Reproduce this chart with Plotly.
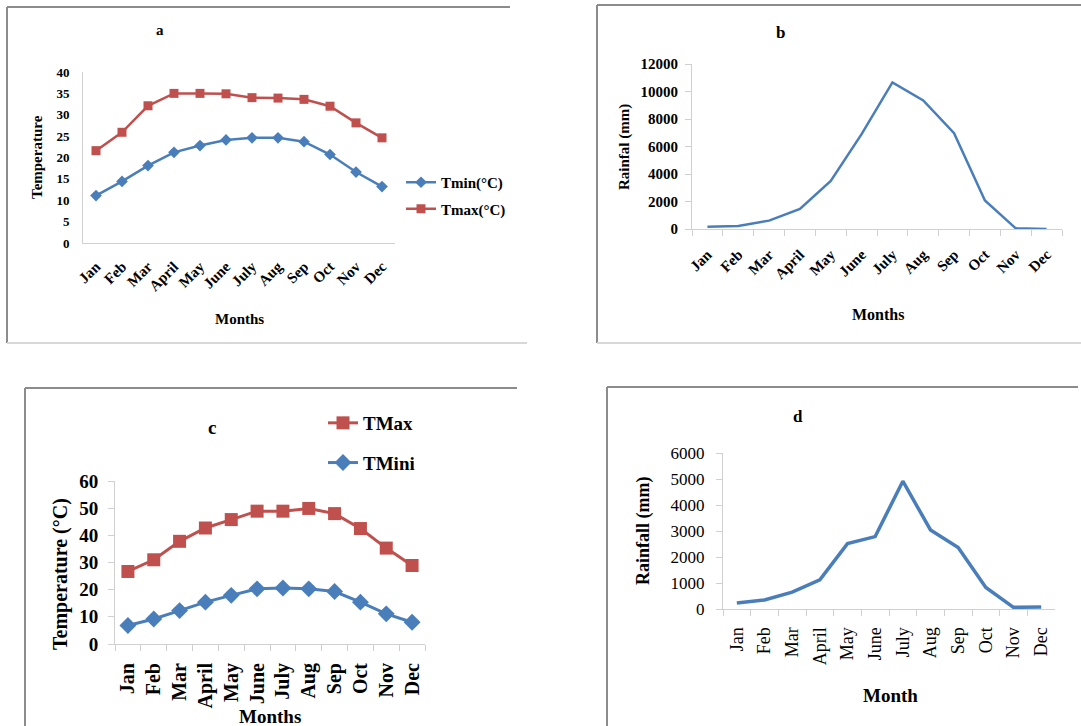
import plotly.graph_objects as go

months = ["Jan", "Feb", "Mar", "April", "May", "June", "July", "Aug", "Sep", "Oct", "Nov", "Dec"]
a_tmin = [11.1, 14.4, 18.1, 21.2, 22.8, 24.1, 24.6, 24.6, 23.7, 20.7, 16.6, 13.2]
a_tmax = [21.6, 25.9, 32.1, 35.0, 35.0, 34.9, 34.0, 33.9, 33.6, 32.0, 28.1, 24.6]
b_rain = [170, 220, 610, 1460, 3500, 6900, 10660, 9350, 6970, 2070, 50, 0]
c_tmax = [26.7, 31.0, 37.8, 42.7, 45.8, 48.9, 48.9, 49.9, 48.0, 42.5, 35.3, 28.9]
c_tmin = [6.8, 9.2, 12.3, 15.4, 17.9, 20.3, 20.6, 20.3, 19.3, 15.4, 11.1, 8.0]
d_rain = [230, 345, 650, 1124, 2516, 2784, 4917, 3040, 2363, 830, 64, 77]

W, H = 1081, 726
FONT = "Liberation Serif, Times New Roman, serif"
BLUE = "#4A7EBB"
RED = "#C0504D"
AX = "#D0D0D0"


def fx(x):
    return x / W


def fy(y):
    return 1 - y / H


fig = go.Figure()

# panel a
fig.add_trace(go.Scatter(x=months, y=a_tmin, name="Tmin(°C)", mode="lines+markers",
                         line=dict(color=BLUE, width=2.5), marker=dict(symbol="diamond", size=9, color=BLUE),
                         xaxis="x", yaxis="y", legend="legend", legendgroup="a1"))
fig.add_trace(go.Scatter(x=months, y=a_tmax, name="Tmax(°C)", mode="lines+markers",
                         line=dict(color=RED, width=2.5), marker=dict(symbol="square", size=9, color=RED),
                         xaxis="x", yaxis="y", legend="legend", legendgroup="a2"))
# panel b
fig.add_trace(go.Scatter(x=months, y=b_rain, mode="lines", showlegend=False,
                         line=dict(color=BLUE, width=2.5), xaxis="x2", yaxis="y2"))
# panel c
fig.add_trace(go.Scatter(x=months, y=c_tmax, name="TMax", mode="lines+markers",
                         line=dict(color=RED, width=3), marker=dict(symbol="square", size=13, color=RED),
                         xaxis="x3", yaxis="y3", legend="legend2", legendgroup="c1"))
fig.add_trace(go.Scatter(x=months, y=c_tmin, name="TMini", mode="lines+markers",
                         line=dict(color=BLUE, width=3), marker=dict(symbol="diamond", size=13, color=BLUE),
                         xaxis="x3", yaxis="y3", legend="legend2", legendgroup="c2"))
# panel d
fig.add_trace(go.Scatter(x=months, y=d_rain, mode="lines", showlegend=False,
                         line=dict(color=BLUE, width=3.5), xaxis="x4", yaxis="y4"))


def xax(dom, size, angle, bold, ticks, standoff):
    return dict(domain=[fx(dom[0]), fx(dom[1])], type="category", range=[-0.5, 11.5],
                showline=True, linecolor=AX, linewidth=1, showgrid=False, zeroline=False,
                ticks=ticks, ticklen=6, tickcolor=AX, tickson="boundaries",
                tickangle=angle, ticklabelstandoff=standoff,
                tickfont=dict(family=FONT, size=size, color="black", weight="bold" if bold else "normal"))


def yax(dom, rng, dtick, size, bold, ticks, standoff, anchor):
    return dict(domain=[fy(dom[1]), fy(dom[0])], range=rng, dtick=dtick, anchor=anchor,
                showline=True, linecolor=AX, linewidth=1, showgrid=False, zeroline=False,
                ticks=ticks, ticklen=6, tickcolor=AX, ticklabelstandoff=standoff,
                tickformat="d",
                tickfont=dict(family=FONT, size=size, color="black", weight="bold" if bold else "normal"))


layout = dict(
    width=W, height=H, margin=dict(l=0, r=0, t=0, b=0, autoexpand=False),
    paper_bgcolor="white", plot_bgcolor="white",
    xaxis=dict(xax((83, 395), 15, -45, True, "", 8), anchor="y"),
    yaxis=yax((72, 243), [0, 40], 5, 13, True, "", 10, "x"),
    xaxis2=dict(xax((692, 1062), 15, -45, True, "outside", 10), anchor="y2"),
    yaxis2=yax((64, 229), [0, 12000], 2000, 15, True, "outside", 4, "x2"),
    xaxis3=dict(xax((115, 425), 20, -90, True, "outside", 10), anchor="y3"),
    yaxis3=yax((481, 644), [0, 60], 10, 19, True, "outside", 6, "x3"),
    xaxis4=dict(xax((723, 1055), 18, -90, False, "outside", 10), anchor="y4"),
    yaxis4=yax((453, 609), [0, 6000], 1000, 17, False, "outside", 8, "x4"),
    legend=dict(x=fx(401), y=fy(166), xanchor="left", yanchor="top", bgcolor="rgba(0,0,0,0)",
                font=dict(family=FONT, size=15, color="black", weight="bold"),
                tracegroupgap=4, traceorder="grouped"),
    legend2=dict(x=fx(323), y=fy(404), xanchor="left", yanchor="top", bgcolor="rgba(0,0,0,0)",
                 font=dict(family=FONT, size=19, color="black", weight="bold"),
                 tracegroupgap=12, traceorder="grouped"),
    showlegend=True,
)
fig.update_layout(**layout)

anns = [
    ("a", 160, 30, 15, 0, True),
    ("Temperature", 37, 157, 15, -90, True),
    ("Months", 240, 319, 15, 0, True),
    ("b", 780, 32, 17, 0, True),
    ("Rainfal (mm)", 624, 147, 15, -90, True),
    ("Months", 878, 314, 16, 0, True),
    ("c", 212, 427, 19, 0, True),
    ("Temperature (°C)", 60, 574, 20, -90, True),
    ("Months", 270, 716, 19, 0, True),
    ("d", 798, 416, 17, 0, True),
    ("Rainfall (mm)", 643, 531, 18, -90, True),
    ("Month", 890, 695, 19, 0, True),
]
for text, x, y, size, ang, bold in anns:
    fig.add_annotation(text=text, x=fx(x), y=fy(y), xref="paper", yref="paper",
                       xanchor="center", yanchor="middle", showarrow=False, textangle=ang,
                       font=dict(family=FONT, size=size, color="black", weight="bold" if bold else "normal"))

BORDER = "#8C8C8C"
LIGHT = "#D8D8D8"
segs = [
    (7, 7, 7, 343, BORDER), (7, 7, 510, 7, BORDER), (7, 343, 527, 343, LIGHT),
    (597, 5, 597, 343, BORDER), (597, 5, 1081, 5, BORDER), (597, 343, 1081, 343, LIGHT),
    (25, 388, 25, 726, BORDER), (25, 388, 517, 388, BORDER),
    (607, 387, 607, 726, BORDER), (607, 387, 1078, 387, BORDER),
]
for x0, y0, x1, y1, c in segs:
    fig.add_shape(type="line", xref="paper", yref="paper", x0=fx(x0), y0=fy(y0), x1=fx(x1), y1=fy(y1),
                  line=dict(color=c, width=2))

fig.write_html("out.html", config={"displayModeBar": False},
               post_script="document.body.style.margin='0';document.body.style.overflow='hidden';")
